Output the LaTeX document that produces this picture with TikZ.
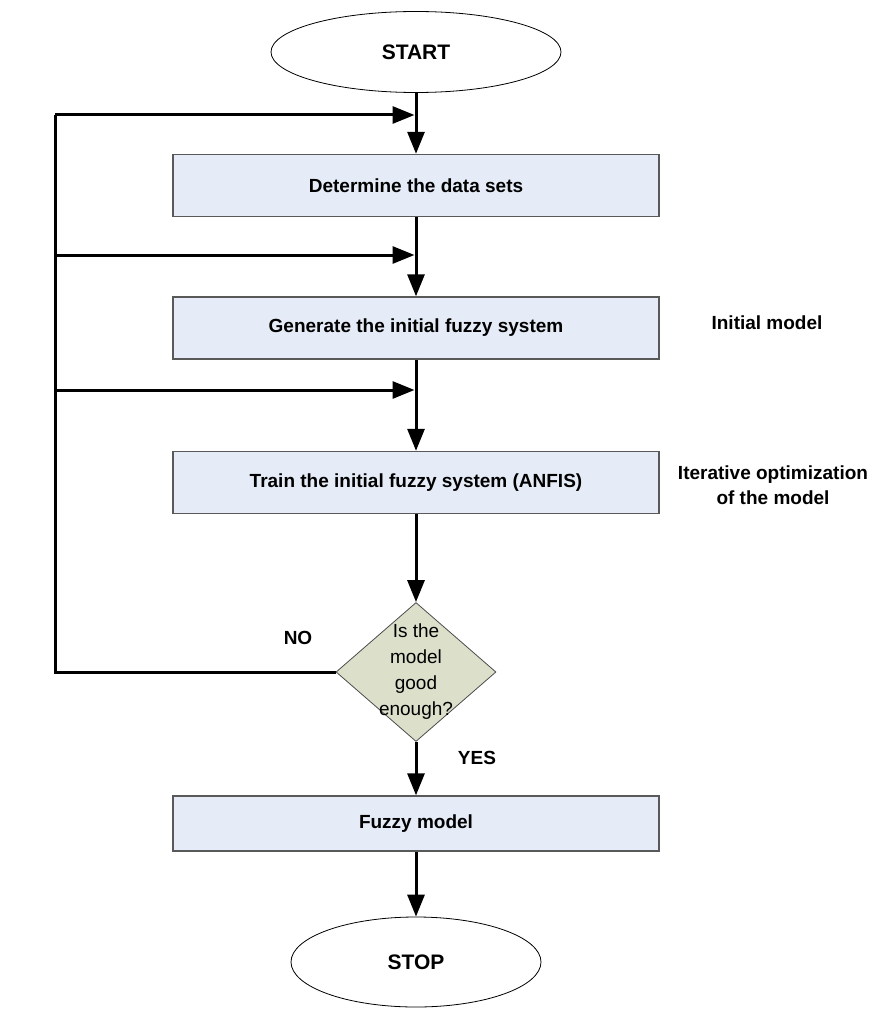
\documentclass[tikz,border=0pt]{standalone}
\usepackage{fontspec}
\setmainfont{Liberation Sans}
\usetikzlibrary{arrows.meta,shapes.geometric,positioning}

\begin{document}
\begin{tikzpicture}[x=1pt, y=-1pt,
    font=\bfseries\fontsize{19}{25}\selectfont,
    stepbox/.style={draw=black!65, line width=1.4pt, fill=boxBlue,
        minimum width=486pt, minimum height=62pt, inner sep=0pt},
    terminal/.style={ellipse, draw=black, line width=0.8pt, inner sep=0pt,
        font=\bfseries\fontsize{21}{25}\selectfont},
    decision/.style={diamond, draw=black!70, line width=0.8pt, fill=decisionGreen,
        minimum width=160pt, minimum height=139pt, inner sep=0pt},
    flow/.style={line width=3pt, -{Triangle[length=22pt,width=17pt]}},
    loopline/.style={line width=3pt}]

    % Define colors
    \definecolor{boxBlue}{RGB}{230, 236, 247}
    \definecolor{decisionGreen}{RGB}{220, 224, 203}

    % Page frame
    \useasboundingbox (0,0) rectangle (890,1014);

    % === MAIN COLUMN ===
    \node[terminal, minimum width=290pt, minimum height=81pt] (start) at (416,52) {START};
    \node[stepbox] (datasets) at (416,185.5) {Determine the data sets};
    \node[stepbox] (initial) at (416,328) {Generate the initial fuzzy system};
    \node[stepbox] (train) at (416,482.5) {Train the initial fuzzy system (ANFIS)};
    \node[decision] (check) at (416,672) {};
    \node[font=\mdseries\fontsize{19}{26}\selectfont, align=center] (checktext) at (check) {Is the\\model\\good\\enough?};
    \node[stepbox, minimum height=55pt] (fuzzy) at (416,823.5) {Fuzzy model};
    \node[terminal, minimum width=250pt, minimum height=90pt] (stop) at (416,962) {STOP};

    % === SIDE NOTES ===
    \node (initnote) at (767,323) {Initial model};
    \node[align=center] (iternote) at (773,485) {Iterative optimization\\of the model};
    \node (no) at (298,638) {NO};
    \node (yes) at (477,758) {YES};

    % === CONNECTORS ===
    \draw[flow] (start) -- (datasets);
    \draw[flow] (datasets) -- (initial);
    \draw[flow] (initial) -- (train);
    \draw[flow] (train) -- (check);
    \draw[flow] (check) -- (fuzzy);
    \draw[flow] (fuzzy) -- (stop);

    % === FEEDBACK LOOP ===
    \coordinate (j1) at (416,115);
    \coordinate (j2) at (416,255);
    \coordinate (j3) at (416,390);
    \coordinate (l1) at (55,115);
    \coordinate (l2) at (55,255);
    \coordinate (l3) at (55,390);
    \coordinate (lbot) at (55,672);
    \draw[loopline] (check.west) -- (lbot) -- (l1);
    \draw[flow, shorten >=1.5pt] (l1) -- (j1);
    \draw[flow, shorten >=1.5pt] (l2) -- (j2);
    \draw[flow, shorten >=1.5pt] (l3) -- (j3);

\end{tikzpicture}
\end{document}
